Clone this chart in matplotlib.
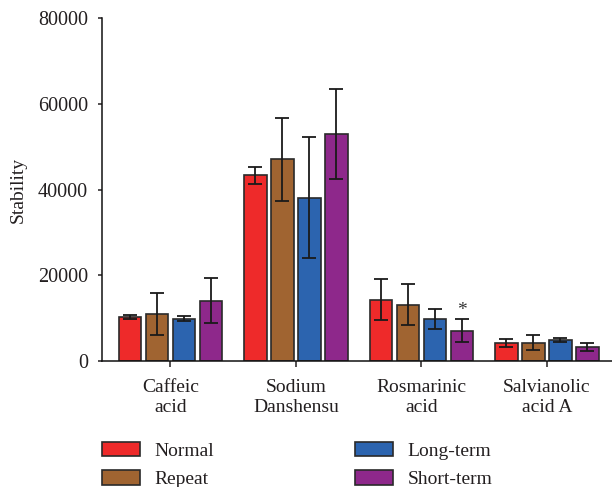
import numpy as np
import matplotlib
matplotlib.use('Agg')
from matplotlib import pyplot as plt

# Data
categories = ['Caffeic\nacid', 'Sodium\nDanshensu', 'Rosmarinic\nacid', 'Salvianolic\nacid A']
series = ['Normal', 'Repeat', 'Long-term', 'Short-term']
normal = [10200, 43400, 14300, 4200]
normal_err = [500, 2000, 4800, 1000]
repeat = [11000, 47100, 13100, 4300]
repeat_err = [4900, 9700, 4800, 1800]
long_term = [9900, 38100, 9800, 4900]
long_err = [500, 14100, 2300, 550]
short_term = [14100, 53000, 7100, 3300]
short_err = [5300, 10400, 2700, 1000]
yticks = [0, 20000, 40000, 60000, 80000]

colors = ['#EE2A2A', '#A06431', '#2C64AF', '#8E288B']
txt = '#231f20'

plt.rcParams['font.family'] = ['Liberation Serif', 'DejaVu Serif']
plt.rcParams['font.size'] = 14

fig = plt.figure(figsize=(6.12, 4.87), dpi=100)
ax = fig.add_axes([102 / 612, 1 - 361 / 487, 1 - 102 / 612, (361 - 18.3) / 487])

x = np.arange(len(categories))
step = 0.215
width = 0.18
values = [normal, repeat, long_term, short_term]
errors = [normal_err, repeat_err, long_err, short_err]
for i, (vals, errs) in enumerate(zip(values, errors)):
    pos = x + (i - 1.5) * step
    ax.bar(pos, vals, width, color=colors[i], edgecolor='#2a2a2a',
           linewidth=1.2, label=series[i], zorder=2)
    ax.errorbar(pos, vals, yerr=errs, fmt='none', ecolor='#1a1a1a',
                elinewidth=1.3, capsize=4.8, capthick=1.3, zorder=3)

# significance marker above Rosmarinic acid, short-term
ax.text(x[2] + 1.5 * step, short_term[2] + short_err[2], '*',
        ha='center', va='bottom', fontsize=14, color='#333333')

ax.set_xlim(-0.546, 3.52)
ax.set_ylim(0, 80000)
ax.set_yticks(yticks)
ax.set_xticks(x)
ax.set_xticklabels(categories, color=txt, linespacing=1.2)
ax.tick_params(axis='y', length=3, width=1.1, pad=7, colors=txt, labelsize=14.5)
ax.tick_params(axis='x', length=4, width=1.1, pad=9, colors=txt, labelsize=14)
ax.set_ylabel('Stability', color=txt, fontsize=14, labelpad=8)
for s in ['top', 'right']:
    ax.spines[s].set_visible(False)
for s in ['left', 'bottom']:
    ax.spines[s].set_linewidth(1.1)
    ax.spines[s].set_color('#111111')

handles, labels = ax.get_legend_handles_labels()
fig.legend(handles, labels, ncol=2, loc='upper left',
           bbox_to_anchor=(102 / 612, 1 - 442 / 487), frameon=False,
           borderpad=0, borderaxespad=0, handlelength=1.96,
           handleheight=0.77, handletextpad=0.74, columnspacing=7.25,
           labelspacing=0.52, fontsize=14, labelcolor=txt)

plt.savefig('out.png', dpi=100)
